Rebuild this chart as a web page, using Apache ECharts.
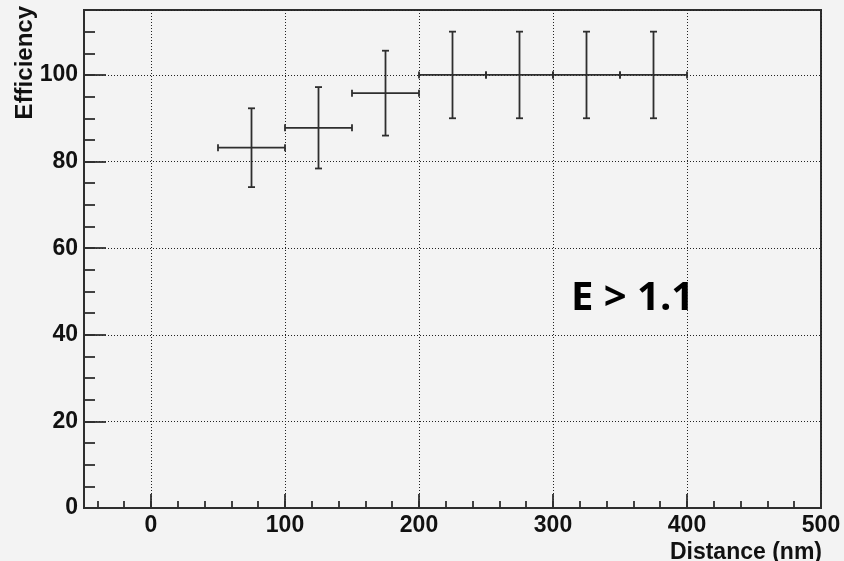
<!DOCTYPE html>
<html>
<head>
<meta charset="utf-8">
<script src="https://cdn.jsdelivr.net/npm/echarts@6/dist/echarts.min.js"></script>
<style>
  html, body { margin: 0; padding: 0; background: #f3f3f3; }
  #chart { width: 844px; height: 561px; }
</style>
</head>
<body>
<div id="chart"></div>
<script>
// Efficiency versus distance, one point per 50 nm bin
const binCenters = [75, 125, 175, 225, 275, 325, 375];
const binHalfWidths = [25, 25, 25, 25, 25, 25, 25];
const efficiency = [83.2, 87.8, 95.8, 100, 100, 100, 100];
const efficiencyErr = [9.1, 9.4, 9.8, 10, 10, 10, 10];

const xRange = [-50, 500];
const yRange = [0, 115];

const ink = '#2e2e2e';
const labelFont = { color: '#111', fontFamily: 'Liberation Sans, Arial, sans-serif', fontWeight: 'bold', fontSize: 23 };

const points = binCenters.map((x, i) => [x, efficiency[i], binHalfWidths[i], efficiencyErr[i]]);

// Horizontal bar spans the bin, vertical bar spans the error, with small end caps
function renderErrorBar(params, api) {
  const x = api.value(0), y = api.value(1), dx = api.value(2), dy = api.value(3);
  const left = api.coord([x - dx, y]);
  const right = api.coord([x + dx, y]);
  const top = api.coord([x, y + dy]);
  const bottom = api.coord([x, y - dy]);
  const cap = 3.5;
  const style = { stroke: ink, lineWidth: 1.8 };
  const seg = (x1, y1, x2, y2) => ({ type: 'line', shape: { x1, y1, x2, y2 }, style });
  return {
    type: 'group',
    children: [
      seg(left[0], left[1], right[0], right[1]),
      seg(top[0], top[1], bottom[0], bottom[1]),
      seg(left[0], left[1] - cap, left[0], left[1] + cap),
      seg(right[0], right[1] - cap, right[0], right[1] + cap),
      seg(top[0] - cap, top[1], top[0] + cap, top[1]),
      seg(bottom[0] - cap, bottom[1], bottom[0] + cap, bottom[1])
    ]
  };
}

const chart = echarts.init(document.getElementById('chart'));
chart.setOption({
  backgroundColor: '#f3f3f3',
  animation: false,
  grid: {
    left: 84, right: 23, top: 10, bottom: 53,
    show: true, borderColor: ink, borderWidth: 2, backgroundColor: 'transparent'
  },
  xAxis: [
    {
      type: 'value', min: xRange[0], max: xRange[1], splitNumber: 5,
      axisLine: { show: true, onZero: false, lineStyle: { color: ink, width: 2 } },
      axisTick: { show: true, inside: true, length: 14, lineStyle: { color: ink, width: 1.8 } },
      axisLabel: Object.assign({ margin: 6, showMinLabel: false }, labelFont),
      splitLine: { show: true, lineStyle: { color: '#222', width: 1, type: [1, 2] } }
    },
    {
      type: 'value', min: xRange[0], max: xRange[1], splitNumber: 27, position: 'bottom',
      axisLine: { show: false, onZero: false },
      axisTick: { show: true, inside: true, length: 7, lineStyle: { color: ink, width: 1.8 } },
      axisLabel: { show: false },
      splitLine: { show: false }
    }
  ],
  yAxis: [
    {
      type: 'value', min: yRange[0], max: yRange[1], interval: 20,
      axisLine: { show: true, onZero: false, lineStyle: { color: ink, width: 2 } },
      axisTick: { show: true, inside: true, length: 22, lineStyle: { color: ink, width: 1.8 } },
      axisLabel: Object.assign({ margin: 6, showMaxLabel: false }, labelFont),
      splitLine: { show: true, lineStyle: { color: '#222', width: 1, type: [1, 2] } }
    },
    {
      type: 'value', min: yRange[0], max: yRange[1], interval: 5, position: 'left',
      axisLine: { show: false, onZero: false },
      axisTick: { show: true, inside: true, length: 11, lineStyle: { color: ink, width: 1.8 } },
      axisLabel: { show: false },
      splitLine: { show: false }
    }
  ],
  series: [
    {
      type: 'custom',
      xAxisIndex: 0, yAxisIndex: 0,
      renderItem: renderErrorBar,
      data: points,
      clip: false,
      z: 5
    }
  ],
  graphic: [
    {
      type: 'text', x: 25, y: 6, rotation: Math.PI / 2,
      style: { text: 'Efficiency', align: 'right', verticalAlign: 'middle', fill: '#111',
        font: 'bold 24px "Liberation Sans", Arial, sans-serif' }
    },
    {
      type: 'text', x: 822, y: 553,
      style: { text: 'Distance (nm)', align: 'right', verticalAlign: 'middle', fill: '#111',
        font: 'bold 23px "Liberation Sans", Arial, sans-serif' }
    },
    {
      type: 'text', x: 571, y: 299,
      style: { text: 'E > 1.1', align: 'left', verticalAlign: 'middle', fill: '#000',
        font: 'bold 40px "Open Sans", sans-serif' }
    }
  ]
});
</script>
</body>
</html>
